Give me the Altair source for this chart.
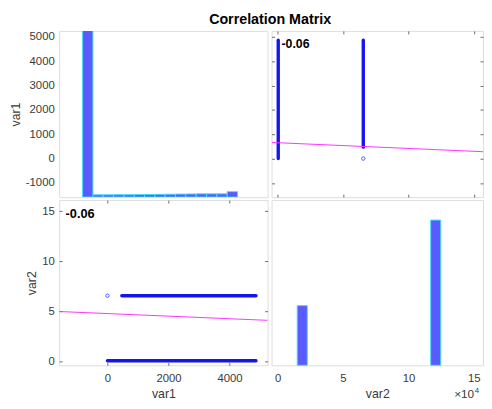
import altair as alt
import pandas as pd

# ---------------- data ----------------
# histogram of var1 (drawn in var1 units, as in the original figure)
h1_lo = [-816, -477, -139, 200, 539, 877, 1216, 1555, 1893, 2232, 2571, 2910, 3248, 3587, 3926]
h1_hi = [-477, -139, 200, 539, 877, 1216, 1555, 1893, 2232, 2571, 2910, 3248, 3587, 3926, 4265]
h1_top = [9000, -1490, -1490, -1485, -1485, -1480, -1475, -1470, -1465, -1460, -1455, -1450, -1450, -1450, -1360]

# histogram of var2 (drawn in var2 units)
h2_lo = [1.5, 11.7]
h2_hi = [2.27, 12.47]
h2_top = [5.56, 14.1]

# scatter: dense runs of points (var2 level, var1 from .. to)
run_var2 = [0.05, 6.55]
run_var1_from = [0, 470]
run_var1_to = [4870, 4870]
# isolated points
pt_var1 = [0]
pt_var2 = [6.55]

# least-squares lines
fitA_var1 = [-1585, 5252]
fitA_var2 = [4.97, 4.09]
fitB_var2 = [-0.46, 15.7]
fitB_var1 = [664, 283]

corr_text = ["-0.06"]
corrA_var1 = [-1374]
corrA_var2 = [14.34]
corrB_var2 = [0.3]
corrB_var1 = [4538]

title_text = ["Correlation Matrix"]

var1_ticks = [-1000, 0, 1000, 2000, 3000, 4000, 5000]
var1_xticks = [0, 2000, 4000]
var2_ticks = [0, 5, 10, 15]

V1_DOM = [-1585, 5252]
V2Y_DOM = [-0.4, 16.1]
V2X_DOM = [-0.46, 15.7]

FONT = "Liberation Sans"
LABEL = "#3a3a3a"
TICK = "#6a6a6a"
BLUE = "#1414f0"
MAG = "#ff33ff"
BAR_FILL = "#5a5aff"
BAR_EDGE = "#3fe0ff"

sV1 = alt.Scale(domain=V1_DOM, nice=False, zero=False)
sV2y = alt.Scale(domain=V2Y_DOM, nice=False, zero=False)
sV2x = alt.Scale(domain=V2X_DOM, nice=False, zero=False)


def lab_axis(orient, values, title, ticks):
    kw = dict(orient=orient, values=values, domain=False, grid=False,
              labelFont=FONT, labelFontSize=11.5, labelColor=LABEL,
              labelExpr="'' + datum.value",
              titleFont=FONT, titleFontSize=12.5, titleFontWeight="normal",
              titleColor=LABEL, titlePadding=3 if orient == "left" else 3.5,
              labelFlush=False, labelOverlap=False, title=title)
    if ticks:
        kw.update(ticks=True, tickSize=3, tickColor=TICK, offset=-3,
                  labelPadding=5 if orient == "left" else 7.5)
    else:
        kw.update(ticks=False, labelPadding=5 if orient == "left" else 7.5)
    return alt.Axis(**kw)


def tick_axis(orient, values):
    return alt.Axis(orient=orient, values=values, domain=False, grid=False,
                    labels=False, title=None, ticks=True, tickSize=3,
                    tickColor=TICK, offset=-3)


W1, W2, H1, H2 = 212, 215, 169, 168

# ---------------- top-left: histogram of var1 ----------------
h1 = pd.DataFrame({"lo": h1_lo, "hi": h1_hi, "top": h1_top})
tl_bars = alt.Chart(h1).mark_bar(fill=BAR_FILL, stroke=BAR_EDGE, strokeWidth=1, clip=True).encode(
    x=alt.X("lo:Q", scale=sV1, axis=None),
    x2="hi:Q",
    y=alt.Y("top:Q", scale=sV1, axis=lab_axis("left", var1_ticks, "var1", False)),
    y2=alt.datum(V1_DOM[0]),
)
# overall title, centred on the gap between the two columns
tl_title = alt.Chart(pd.DataFrame({"t": title_text, "x": [V1_DOM[1]], "y": [V1_DOM[1]]})).mark_text(
    align="center", baseline="alphabetic", font=FONT, fontSize=14.5, fontWeight="bold",
    color="black", dx=2.5, dy=-7.3).encode(
    x=alt.X("x:Q", scale=sV1, axis=None), y=alt.Y("y:Q", scale=sV1, axis=None), text="t:N")
tl = alt.layer(tl_bars, tl_title).resolve_axis(x="independent", y="independent").properties(
    width=W1, height=H1)

# ---------------- scatter data ----------------
runs = pd.DataFrame({"v2": run_var2, "a": run_var1_from, "b": run_var1_to})
pts = pd.DataFrame({"v1": pt_var1, "v2": pt_var2})
fitA = pd.DataFrame({"v1": fitA_var1, "v2": fitA_var2})
fitB = pd.DataFrame({"v2": fitB_var2, "v1": fitB_var1})

# ---------------- top-right: var2 (x) vs var1 (y) ----------------
tr_runs = alt.Chart(runs).mark_rule(color=BLUE, strokeWidth=3.4, strokeCap="round").encode(
    x=alt.X("v2:Q", scale=sV2x, axis=None),
    y=alt.Y("a:Q", scale=sV1, axis=None), y2="b:Q")
tr_pts = alt.Chart(pts).mark_point(shape="circle", size=12, color=BLUE, strokeWidth=1, filled=False).encode(
    x=alt.X("v2:Q", scale=sV2x, axis=None),
    y=alt.Y("v1:Q", scale=sV1, axis=None))
tr_fit = alt.Chart(fitB).mark_line(color=MAG, strokeWidth=1, clip=True).encode(
    x=alt.X("v2:Q", scale=sV2x, axis=tick_axis("bottom", var2_ticks)),
    y=alt.Y("v1:Q", scale=sV1, axis=tick_axis("left", var1_ticks)))
tr_fit2 = alt.Chart(fitB).mark_line(opacity=0).encode(
    x=alt.X("v2:Q", scale=sV2x, axis=tick_axis("top", var2_ticks)),
    y=alt.Y("v1:Q", scale=sV1, axis=tick_axis("right", var1_ticks)))
tr_txt = alt.Chart(pd.DataFrame({"t": corr_text, "x": corrB_var2, "y": corrB_var1})).mark_text(
    align="left", baseline="alphabetic", font=FONT, fontSize=12.5, fontWeight="bold", color="black").encode(
    x=alt.X("x:Q", scale=sV2x, axis=None),
    y=alt.Y("y:Q", scale=sV1, axis=None), text="t:N")
tr = alt.layer(tr_runs, tr_pts, tr_fit, tr_fit2, tr_txt).resolve_axis(
    x="independent", y="independent").properties(width=W2, height=H1)

# ---------------- bottom-left: var1 (x) vs var2 (y) ----------------
bl_runs = alt.Chart(runs).mark_rule(color=BLUE, strokeWidth=3.4, strokeCap="round").encode(
    x=alt.X("a:Q", scale=sV1, axis=None), x2="b:Q",
    y=alt.Y("v2:Q", scale=sV2y, axis=None))
bl_pts = alt.Chart(pts).mark_point(shape="circle", size=12, color=BLUE, strokeWidth=1, filled=False).encode(
    x=alt.X("v1:Q", scale=sV1, axis=None),
    y=alt.Y("v2:Q", scale=sV2y, axis=None))
bl_fit = alt.Chart(fitA).mark_line(color=MAG, strokeWidth=1, clip=True).encode(
    x=alt.X("v1:Q", scale=sV1, axis=lab_axis("bottom", var1_xticks, "var1", True)),
    y=alt.Y("v2:Q", scale=sV2y, axis=lab_axis("left", var2_ticks, "var2", True)))
bl_fit2 = alt.Chart(fitA).mark_line(opacity=0).encode(
    x=alt.X("v1:Q", scale=sV1, axis=tick_axis("top", var1_xticks)),
    y=alt.Y("v2:Q", scale=sV2y, axis=tick_axis("right", var2_ticks)))
bl_txt = alt.Chart(pd.DataFrame({"t": corr_text, "x": corrA_var1, "y": corrA_var2})).mark_text(
    align="left", baseline="alphabetic", font=FONT, fontSize=13, fontWeight="bold", color="black").encode(
    x=alt.X("x:Q", scale=sV1, axis=None),
    y=alt.Y("y:Q", scale=sV2y, axis=None), text="t:N")
bl = alt.layer(bl_runs, bl_pts, bl_fit, bl_fit2, bl_txt).resolve_axis(
    x="independent", y="independent").properties(width=W1, height=H2)

# ---------------- bottom-right: histogram of var2 ----------------
h2 = pd.DataFrame({"lo": h2_lo, "hi": h2_hi, "top": h2_top})
br_bars = alt.Chart(h2).mark_bar(fill=BAR_FILL, stroke=BAR_EDGE, strokeWidth=1).encode(
    x=alt.X("lo:Q", scale=sV2x, axis=lab_axis("bottom", var2_ticks, "var2", False)),
    x2="hi:Q",
    y=alt.Y("top:Q", scale=sV2y, axis=None),
    y2=alt.datum(V2Y_DOM[0]))
exp_df = pd.DataFrame({"x": [V2X_DOM[1]], "y": [V2Y_DOM[0]]})
br_x10 = alt.Chart(exp_df).mark_text(align="right", baseline="alphabetic", font=FONT, fontSize=12,
                                     color=LABEL, dx=-9, dy=33, text="\u00d710").encode(
    x=alt.X("x:Q", scale=sV2x, axis=None), y=alt.Y("y:Q", scale=sV2y, axis=None))
br_exp = alt.Chart(exp_df).mark_text(align="left", baseline="alphabetic", font=FONT, fontSize=8,
                                     color=LABEL, dx=-8.5, dy=28, text="4").encode(
    x=alt.X("x:Q", scale=sV2x, axis=None), y=alt.Y("y:Q", scale=sV2y, axis=None))
br = alt.layer(br_bars, br_x10, br_exp).resolve_axis(
    x="independent", y="independent").properties(width=W2, height=H2)

chart = alt.concat(tl, tr, bl, br, columns=2, spacing={"row": 3, "column": 4},
                   bounds="flush", align="each").properties(
    autosize=alt.AutoSizeParams(type="none"),
    padding={"left": 52, "top": 20, "right": 432, "bottom": 373},
).configure_view(stroke="#858585", strokeWidth=1.5).configure(background="white")

chart.save("out.html", embed_options={"renderer": "svg", "actions": False})
